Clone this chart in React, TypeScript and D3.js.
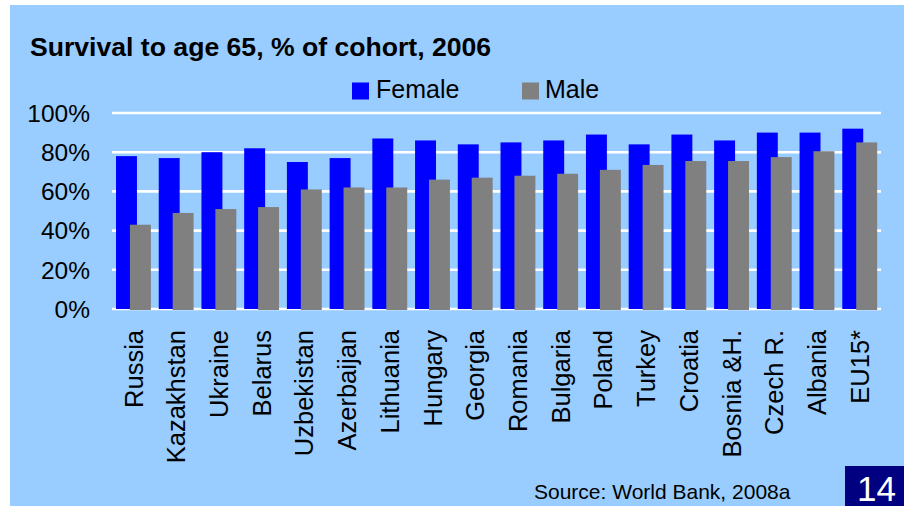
import React, { useEffect, useRef } from 'react';
import * as d3 from 'd3';

const countries = [
  'Russia', 'Kazakhstan', 'Ukraine', 'Belarus', 'Uzbekistan', 'Azerbaijan',
  'Lithuania', 'Hungary', 'Georgia', 'Romania', 'Bulgaria', 'Poland',
  'Turkey', 'Croatia', 'Bosnia &H.', 'Czech R.', 'Albania', 'EU15*',
];
const female = [78, 77, 80, 82, 75, 77, 87, 86, 84, 85, 86, 89, 84, 89, 86, 90, 90, 92];
const male = [43, 49, 51, 52, 61, 62, 62, 66, 67, 68, 69, 71, 73.5, 75.5, 75.5, 77.5, 80.5, 85];
const yTicks = [0, 20, 40, 60, 80, 100];

const FONT = "Arial, 'Liberation Sans', sans-serif";

const App = () => {
  const svgRef = useRef<SVGSVGElement>(null);

  useEffect(() => {
    const svg = d3.select(svgRef.current);
    svg.selectAll('*').remove();

    const width = 904;
    const height = 506;
    svg.attr('width', width).attr('height', height);

    // page + light blue panel
    svg.append('rect').attr('width', width).attr('height', height).attr('fill', '#ffffff');
    svg.append('rect').attr('x', 10).attr('y', 5).attr('width', width - 10).attr('height', height - 5).attr('fill', '#99CCFF');

    const x = d3.scaleBand().domain(countries).range([112, 881]);
    const y = d3.scaleLinear().domain([0, 100]).range([309, 113]);
    const bw = x.bandwidth();
    const barW = bw * 0.49;

    // gridlines
    svg.append('g')
      .selectAll('line')
      .data(yTicks)
      .enter()
      .append('line')
      .attr('x1', 112)
      .attr('x2', 881)
      .attr('y1', (d) => y(d))
      .attr('y2', (d) => y(d))
      .attr('stroke', '#ffffff')
      .attr('stroke-width', 2.6);

    // y tick labels
    svg.append('g')
      .selectAll('text')
      .data(yTicks)
      .enter()
      .append('text')
      .attr('x', 90)
      .attr('y', (d) => y(d))
      .attr('dy', '0.36em')
      .attr('text-anchor', 'end')
      .style('font-family', FONT)
      .style('font-size', '24.5px')
      .attr('fill', '#000')
      .text((d) => d + '%');

    // female bars
    svg.append('g')
      .selectAll('rect')
      .data(female)
      .enter()
      .append('rect')
      .attr('x', (d, i) => (x(countries[i]) as number) + bw * 0.094)
      .attr('y', (d) => y(d))
      .attr('width', barW)
      .attr('height', (d) => y(0) - y(d))
      .attr('fill', '#0000FF');

    // male bars (overlapping)
    svg.append('g')
      .selectAll('rect')
      .data(male)
      .enter()
      .append('rect')
      .attr('x', (d, i) => (x(countries[i]) as number) + bw * 0.42)
      .attr('y', (d) => y(d))
      .attr('width', barW)
      .attr('height', (d) => y(0) - y(d) + 1)
      .attr('fill', '#808080');

    // category labels, rotated
    svg.append('g')
      .selectAll('text')
      .data(countries)
      .enter()
      .append('text')
      .attr('transform', (d) => `translate(${(x(d) as number) + bw / 2}, 330) rotate(-90)`)
      .attr('dy', '0.36em')
      .attr('text-anchor', 'end')
      .style('font-family', FONT)
      .style('font-size', '25.5px')
      .attr('fill', '#000')
      .text((d) => d);

    // title
    svg.append('text')
      .attr('x', 30)
      .attr('y', 56)
      .style('font-family', FONT)
      .style('font-size', '26.6px')
      .style('font-weight', 'bold')
      .attr('fill', '#000')
      .text('Survival to age 65, % of cohort, 2006');

    // legend
    const legend = [
      { label: 'Female', color: '#0000FF', sx: 352, tx: 376 },
      { label: 'Male', color: '#808080', sx: 522, tx: 545 },
    ];
    const lg = svg.append('g');
    legend.forEach((l) => {
      lg.append('rect').attr('x', l.sx).attr('y', 82.5).attr('width', 17).attr('height', 17).attr('fill', l.color);
      lg.append('text')
        .attr('x', l.tx)
        .attr('y', 97.5)
        .style('font-family', FONT)
        .style('font-size', '25px')
        .attr('fill', '#000')
        .text(l.label);
    });

    // source
    svg.append('text')
      .attr('x', 534)
      .attr('y', 499)
      .style('font-family', FONT)
      .style('font-size', '21px')
      .attr('fill', '#000')
      .text('Source: World Bank, 2008a');

    // slide number
    svg.append('rect').attr('x', 845).attr('y', 466).attr('width', 59).attr('height', 40).attr('fill', '#000080');
    svg.append('text')
      .attr('x', 876.5)
      .attr('y', 500.5)
      .attr('text-anchor', 'middle')
      .style('font-family', FONT)
      .style('font-size', '35px')
      .attr('fill', '#ffffff')
      .text('14');
  }, []);

  return (
    <div style={{ position: 'absolute', left: 0, top: 0 }}>
      <svg ref={svgRef} style={{ display: 'block' }}></svg>
    </div>
  );
};

export default App;
